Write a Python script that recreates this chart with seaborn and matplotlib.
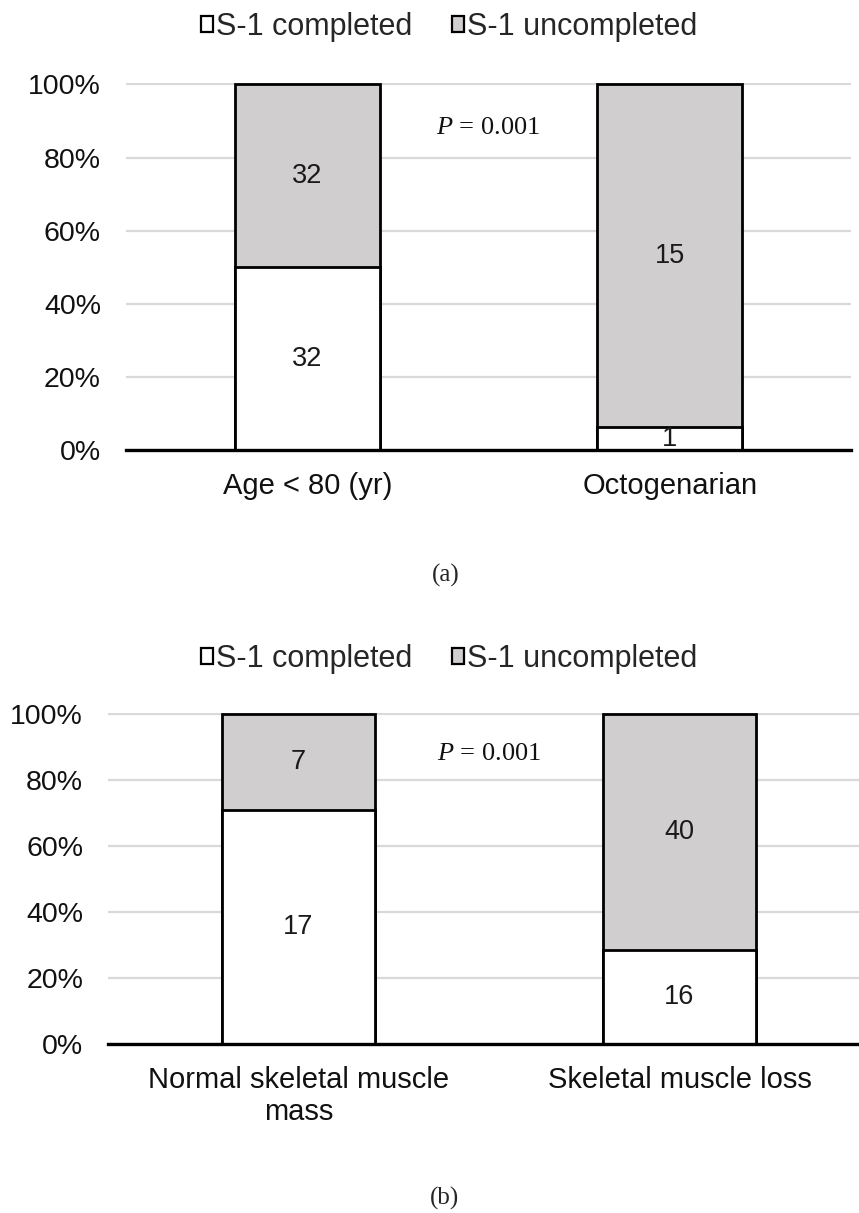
import numpy as np
import pandas as pd
import seaborn as sns
import matplotlib.pyplot as plt
from matplotlib.patches import Patch
from matplotlib.ticker import PercentFormatter

# panel (a): age groups
groups_a = ["Age < 80 (yr)", "Octogenarian"]
completed_a = [32, 1]
uncompleted_a = [32, 15]

# panel (b): skeletal muscle
groups_b = ["Normal skeletal muscle\nmass", "Skeletal muscle loss"]
completed_b = [17, 16]
uncompleted_b = [7, 40]

series_names = ["S-1 completed", "S-1 uncompleted"]
p_text = r"$P$ = 0.001"
panel_tags = ["(a)", "(b)"]

GRAY = "#D0CECE"
GRID = "#D9D9D9"

sns.set_style("white")
plt.rcParams['font.family'] = ['Liberation Sans', 'DejaVu Sans']
plt.rcParams['mathtext.fontset'] = 'custom'
plt.rcParams['mathtext.it'] = 'Liberation Serif:italic'
plt.rcParams['mathtext.rm'] = 'Liberation Serif'


def stacked_panel(ax, groups, completed, uncompleted, xpad):
    df = pd.DataFrame({"group": groups, "done": completed, "undone": uncompleted})
    df["total"] = df["done"] + df["undone"]
    df["share_done"] = df["done"] / df["total"]
    df["share_all"] = 1.0

    # full bar in gray, completed share in white on top of it
    sns.barplot(data=df, x="group", y="share_all", color=GRAY, saturation=1,
                edgecolor="black", linewidth=2.0, width=0.4, ax=ax)
    sns.barplot(data=df, x="group", y="share_done", color="white", saturation=1,
                edgecolor="black", linewidth=2.0, width=0.4, ax=ax)

    for i, row in df.iterrows():
        ax.text(i, row["share_done"] / 2, f"{row['done']}", ha="center", va="center",
                fontsize=19.5, color="#1a1a1a")
        ax.text(i, row["share_done"] + (1 - row["share_done"]) / 2, f"{row['undone']}",
                ha="center", va="center", fontsize=19.5, color="#1a1a1a")

    ax.set_xlim(-0.5, 1.5)
    ax.set_ylim(0, 1.004)
    ax.set_yticks(np.arange(0, 1.01, 0.2))
    ax.yaxis.set_major_formatter(PercentFormatter(1.0, decimals=0))
    ax.yaxis.grid(True, color=GRID, linewidth=1.6)
    ax.set_axisbelow(True)
    for s in ["top", "right", "left"]:
        ax.spines[s].set_visible(False)
    ax.spines["bottom"].set_color("black")
    ax.spines["bottom"].set_linewidth(2.4)
    ax.spines["bottom"].set_zorder(5)
    ax.tick_params(axis="y", length=0, pad=18, labelsize=20.5, labelcolor="#111111")
    ax.tick_params(axis="x", length=0, pad=xpad, labelsize=21, labelcolor="#111111")
    for lab in ax.get_xticklabels():
        lab.set_multialignment("center")
        lab.set_linespacing(1.17)
    ax.set_xlabel("")
    ax.set_ylabel("")

    ax.text(0.5, 0.88, p_text, ha="center", va="center", fontsize=19,
            family="Liberation Serif", color="#111111")


fig = plt.figure(figsize=(8.59, 12.13), dpi=100)
W, H = 859, 1213
ax1 = fig.add_axes([126 / W, 1 - 450 / H, 725 / W, 367 / H])
ax2 = fig.add_axes([108 / W, 1 - 1044 / H, 762 / W, 331 / H])

stacked_panel(ax1, groups_a, completed_a, uncompleted_a, xpad=16)
stacked_panel(ax2, groups_b, completed_b, uncompleted_b, xpad=16)

handles = [Patch(facecolor="white", edgecolor="black", linewidth=1.6),
           Patch(facecolor=GRAY, edgecolor="black", linewidth=1.6)]
for ycen in [27, 659]:
    fig.legend(handles, series_names, loc="center", ncol=2, frameon=False,
               bbox_to_anchor=(449 / W, 1 - ycen / H), fontsize=22,
               handlelength=0.4, handleheight=0.4, handletextpad=0.1,
               columnspacing=1.3)

fig.text(446 / W, 1 - 575 / H, panel_tags[0], ha="center", va="center",
         fontsize=18, family="Liberation Serif")
fig.text(445 / W, 1 - 1198 / H, panel_tags[1], ha="center", va="center",
         fontsize=18, family="Liberation Serif")

fig.savefig("out.png", dpi=100)
